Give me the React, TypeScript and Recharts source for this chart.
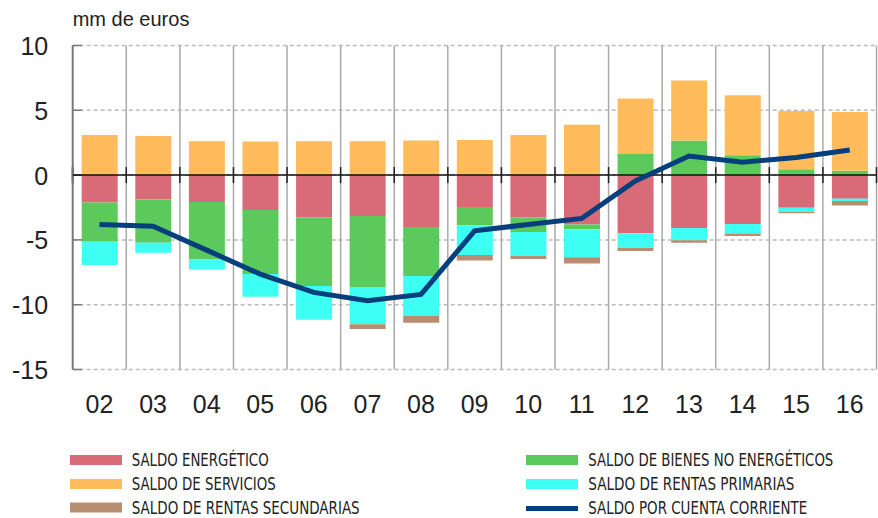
import React from "react";
import {
  ComposedChart,
  Bar,
  Line,
  XAxis,
  YAxis,
  CartesianGrid,
  ReferenceLine,
} from "recharts";

const years = ["02", "03", "04", "05", "06", "07", "08", "09", "10", "11", "12", "13", "14", "15", "16"];
const energetico = [-2.11, -1.88, -2.08, -2.7, -3.27, -3.16, -4.01, -2.47, -3.27, -3.81, -4.48, -4.09, -3.78, -2.52, -1.83];
const bienes = [-3.03, -3.34, -4.43, -4.94, -5.29, -5.48, -3.78, -1.39, -1.13, -0.36, 1.62, 2.67, 1.54, 0.46, 0.33];
const servicios = [3.09, 3.01, 2.62, 2.6, 2.62, 2.62, 2.67, 2.7, 3.09, 3.88, 4.3, 4.63, 4.63, 4.48, 4.53];
const primarias = [-1.8, -0.77, -0.77, -1.75, -2.6, -2.86, -3.09, -2.31, -1.85, -2.16, -1.13, -0.93, -0.72, -0.33, -0.17];
const secundarias = [0, 0, 0, 0, 0, -0.38, -0.51, -0.41, -0.23, -0.49, -0.25, -0.2, -0.2, -0.1, -0.34];
const cuenta = [-3.81, -3.94, -5.79, -7.64, -9.05, -9.7, -9.21, -4.3, -3.81, -3.34, -0.45, 1.47, 1.0, 1.36, 1.93];
const yTicks = [-15, -10, -5, 0, 5, 10];

const COLORS = {
  energetico: "#d96a77",
  bienes: "#5cc95c",
  servicios: "#ffbb5c",
  primarias: "#3dfff3",
  secundarias: "#b78e72",
  cuenta: "#053f7c",
};

const data = years.map((y, i) => ({
  year: y,
  energetico: energetico[i],
  bienes: bienes[i],
  servicios: servicios[i],
  primarias: primarias[i],
  secundarias: secundarias[i],
  cuenta: cuenta[i],
}));

const legendItems = [
  { label: "SALDO ENERGÉTICO", color: COLORS.energetico, col: 0, row: 0, len: 137 },
  { label: "SALDO DE SERVICIOS", color: COLORS.servicios, col: 0, row: 1, len: 144 },
  { label: "SALDO DE RENTAS SECUNDARIAS", color: COLORS.secundarias, col: 0, row: 2, len: 228 },
  { label: "SALDO DE BIENES NO ENERGÉTICOS", color: COLORS.bienes, col: 1, row: 0, len: 245 },
  { label: "SALDO DE RENTAS PRIMARIAS", color: COLORS.primarias, col: 1, row: 1, len: 206 },
  { label: "SALDO POR CUENTA CORRIENTE", color: COLORS.cuenta, col: 1, row: 2, len: 219, line: true },
];

const FONT = "'Liberation Sans', Arial, sans-serif";
const NARROW = "'Liberation Sans Narrow', 'DejaVu Sans Condensed', 'Liberation Sans', sans-serif";

const YTick = (props: any) => {
  const { x, y, payload } = props;
  return (
    <g>
      <line x1={x} x2={x + 9} y1={y} y2={y} stroke={payload.value === 0 ? "#222" : "#777"} strokeWidth={1.5} />
      <text x={x - 24.5} y={y + 9.5} textAnchor="end" fontSize={25} fill="#222" fontFamily={FONT}>
        {payload.value}
      </text>
    </g>
  );
};

const XTick = (props: any) => {
  const { x, y, payload } = props;
  return (
    <text x={x} y={y + 43.5} textAnchor="middle" fontSize={25} fill="#222" fontFamily={FONT}>
      {payload.value}
    </text>
  );
};

const ZeroLine = (props: any) => {
  const { x1, x2, y1, y2 } = props;
  const step = (x2 - x1) / years.length;
  return (
    <g>
      <line x1={x1} x2={x2} y1={y1} y2={y2} stroke="#111" strokeWidth={1.5} />
      {years.map((_, i) => (
        <line key={i} x1={x1 + (i + 1) * step} x2={x1 + (i + 1) * step} y1={y1 - 8} y2={y1 + 8} stroke="#222" strokeWidth={1.5} />
      ))}
      <line x1={x1} x2={x1} y1={y1 - 8} y2={y1 + 8} stroke="#222" strokeWidth={2} />
    </g>
  );
};

export default function App() {
  return (
    <div style={{ position: "absolute", left: 0, top: 0, width: 878, height: 518, background: "#fff" }}>
      <ComposedChart
        width={878}
        height={440}
        data={data}
        stackOffset="sign"
        margin={{ top: 45.5, right: 1.5, left: 0, bottom: 20.5 }}
      >
        <CartesianGrid vertical={false} stroke="#bbb" strokeDasharray="4 3" strokeWidth={1.5} />
        <CartesianGrid
          horizontal={false}
          stroke="#aaa"
          strokeWidth={1.5}
          verticalCoordinatesGenerator={({ offset }: any) =>
            years.map((_, i) => offset.left + ((i + 1) * offset.width) / years.length)
          }
        />
        <XAxis
          dataKey="year"
          axisLine={false}
          tickLine={false}
          tickSize={0}
          tickMargin={0}
          height={50}
          tick={<XTick />}
          interval={0}
        />
        <YAxis
          domain={[-15, 10]}
          ticks={yTicks}
          width={72.7}
          tickLine={false}
          tickSize={0}
          tickMargin={0}
          axisLine={{ stroke: "#777", strokeWidth: 2 }}
          tick={<YTick />}
          interval={0}
        />
        <Bar dataKey="energetico" stackId="a" fill={COLORS.energetico} barSize={36} isAnimationActive={false} />
        <Bar dataKey="bienes" stackId="a" fill={COLORS.bienes} barSize={36} isAnimationActive={false} />
        <Bar dataKey="servicios" stackId="a" fill={COLORS.servicios} barSize={36} isAnimationActive={false} />
        <Bar dataKey="primarias" stackId="a" fill={COLORS.primarias} barSize={36} isAnimationActive={false} />
        <Bar dataKey="secundarias" stackId="a" fill={COLORS.secundarias} barSize={36} isAnimationActive={false} />
        <ReferenceLine y={0} shape={<ZeroLine />} />
        <Line
          type="linear"
          dataKey="cuenta"
          stroke={COLORS.cuenta}
          strokeWidth={5}
          dot={false}
          activeDot={false}
          isAnimationActive={false}
        />
      </ComposedChart>
      <svg width={878} height={518} style={{ position: "absolute", left: 0, top: 0, pointerEvents: "none" }}>
        <text x={72.7} y={25.5} fontSize={20} fill="#222" fontFamily={FONT}>
          mm de euros
        </text>
        {legendItems.map((it) => {
          const sx = it.col === 0 ? 70 : 526;
          const tx = it.col === 0 ? 131.7 : 588.3;
          const cy = [460, 484, 507.5][it.row];
          const h = it.line ? 5 : 10;
          return (
            <g key={it.label}>
              <rect x={sx} y={cy - h / 2 + (it.line ? 1 : 0)} width={52} height={h} fill={it.color} />
              <text
                x={tx}
                y={cy + 6}
                fontSize={17}
                fill="#222"
                fontFamily={NARROW}
                textLength={it.len}
                lengthAdjust="spacingAndGlyphs"
              >
                {it.label}
              </text>
            </g>
          );
        })}
      </svg>
    </div>
  );
}
